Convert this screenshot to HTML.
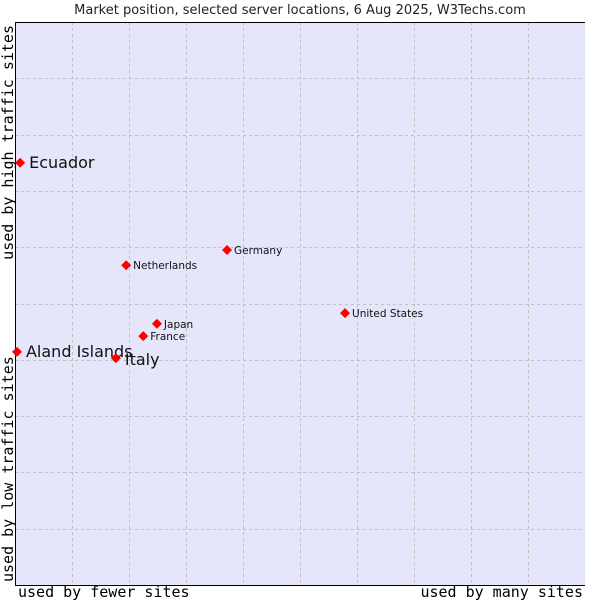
<!DOCTYPE html>
<html><head><meta charset="utf-8"><style>body{margin:0;background:#fff}svg{display:block}</style></head>
<body>
<svg id="c" width="600" height="600" xmlns="http://www.w3.org/2000/svg" font-family="DejaVu Sans, sans-serif">
<text x="300" y="14" text-anchor="middle" font-size="13" fill="#222">Market position, selected server locations, 6 Aug 2025, W3Techs.com</text>
<rect x="15" y="22" width="570" height="563" fill="#e6e6fa"/>
<g id="grid"></g>
<line x1="15.5" y1="22" x2="15.5" y2="585" stroke="#000"/>
<line x1="15" y1="585.5" x2="585" y2="585.5" stroke="#000"/>
<line x1="15" y1="22.5" x2="585" y2="22.5" stroke="#000"/>
<g id="pts"></g>
<text x="18" y="597" font-family="DejaVu Sans Mono, monospace" font-size="15" fill="#000">used by fewer sites</text>
<text x="583" y="597" text-anchor="end" font-family="DejaVu Sans Mono, monospace" font-size="15" fill="#000">used by many sites</text>
<text transform="translate(13,25) rotate(-90)" text-anchor="end" font-family="DejaVu Sans Mono, monospace" font-size="15" fill="#000">used by high traffic sites</text>
<text transform="translate(13,582) rotate(-90)" font-family="DejaVu Sans Mono, monospace" font-size="15" fill="#000">used by low traffic sites</text>
</svg>
<script>
const names=["Ecuador","Aland Islands","Italy","France","Japan","Netherlands","Germany","United States"];
const xVals=[0.9,0.35,17.7,22.5,24.9,19.5,37.2,57.9];
const yVals=[75.0,41.4,40.3,44.2,46.4,56.8,59.5,48.3];
const big=[true,true,true,false,false,false,false,false];
const NS="http://www.w3.org/2000/svg";
const sx=v=>15+v*5.7, sy=v=>585-v*5.63;
const g=document.getElementById('grid');
for(let i=1;i<10;i++){
 let l=document.createElementNS(NS,'line');
 
 
 l.setAttribute('x1',Math.round(sx(i*10))+.5);l.setAttribute('x2',Math.round(sx(i*10))+.5);
 l.setAttribute('y1',22);l.setAttribute('y2',585);
 l.setAttribute('stroke','#c0c0c0');l.setAttribute('stroke-dasharray','3,3');g.appendChild(l);
 let h=document.createElementNS(NS,'line');
 
 
 h.setAttribute('y1',Math.round(sy(i*10))+.5);h.setAttribute('y2',Math.round(sy(i*10))+.5);
 h.setAttribute('x1',15);h.setAttribute('x2',585);
 h.setAttribute('stroke','#c0c0c0');h.setAttribute('stroke-dasharray','3,3');g.appendChild(h);
}
const p=document.getElementById('pts');
names.forEach((n,i)=>{
 const x=sx(xVals[i]),y=sy(yVals[i]);
 const d=document.createElementNS(NS,'path');
 
 
 d.setAttribute('d',`M${x-5},${y}L${x},${y-5}L${x+5},${y}L${x},${y+5}Z`);
 d.setAttribute('fill','#f00');p.appendChild(d);
 const t=document.createElementNS(NS,'text');
 
 
 t.setAttribute('x',x+(big[i]?9:7));
 t.setAttribute('y',y+(n==="Italy"?7:(big[i]?5:4)));
 t.setAttribute('font-size',big[i]?16:10.5);
 t.setAttribute('fill','#111');
 t.textContent=n;p.appendChild(t);
});
</script>
</body></html>
